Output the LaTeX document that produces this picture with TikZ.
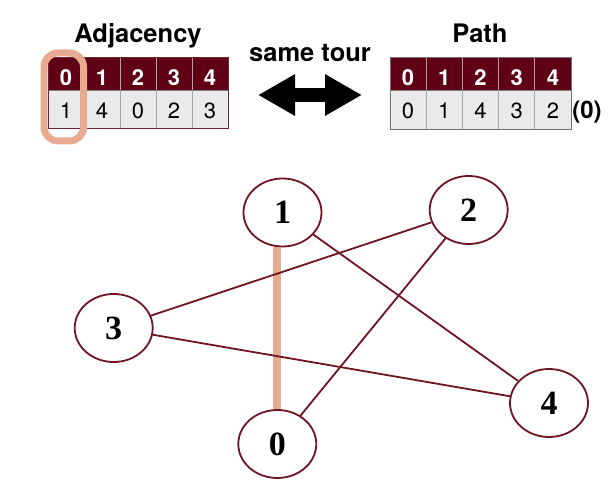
\documentclass[tikz,border=0pt]{standalone}
\usepackage{fontspec}
\setmainfont{TeX Gyre Heros}
\newfontfamily\vertexfont{Liberation Serif}
\usetikzlibrary{shapes.geometric,arrows.meta}
\definecolor{headred}{RGB}{96,0,22}
\definecolor{edgered}{RGB}{110,20,35}
\definecolor{cellgray}{RGB}{234,234,234}
\definecolor{tourorange}{RGB}{232,170,145}
\begin{document}
\begin{tikzpicture}[x=1pt,y=-1pt,
		title/.style={anchor=base,font=\fontsize{25.5}{30}\selectfont\bfseries},
		headnum/.style={anchor=base,text=white,font=\fontsize{22}{26}\selectfont\bfseries},
		cellnum/.style={anchor=base,font=\fontsize{22}{26}\selectfont},
		vertex/.style={ellipse,draw=edgered,line width=1.8pt,fill=white,minimum width=78pt,minimum height=68pt,inner sep=0pt,font=\vertexfont\fontsize{34}{38}\selectfont\bfseries},
		edge/.style={draw=edgered,line width=1.8pt},
		tourline/.style={draw=tourorange,line width=8pt}]
		\useasboundingbox (0,0) rectangle (611,486);
		
		\node[title] (adjtitle) at (138,43) {Adjacency};
		\fill[cellgray] (48,91) rectangle (228,129);
		\fill[headred] (48,58) rectangle (228,91);
		\foreach \x in {84,120,156,192} {
			\draw[gray!70,line width=0.8pt] (\x,58) -- (\x,91);
			\draw[gray!70,line width=0.8pt] (\x,91) -- (\x,129);
		}
		\draw[gray,line width=1pt] (48,91) -- (228,91);
		\draw[headred!70!gray,line width=1pt] (48,58) rectangle (228,129);
		\foreach \i/\a in {0/1,1/4,2/0,3/2,4/3} {
			\node[headnum] (adjh\i) at (66+36*\i,86) {\i};
			\node[cellnum] (adjv\i) at (66+36*\i,118.5) {\a};
		}
		\draw[tourorange,line width=7pt,rounded corners=14pt] (44,53) rectangle (83.5,141);
		
		\node[title] (tourtitle) at (310,62) {same tour};
		\coordinate (tourleft) at (258,95);
		\coordinate (tourright) at (362,95);
		\draw[line width=13.5pt,{Triangle[length=37pt,width=39pt]}-{Triangle[length=37pt,width=39pt]}] (tourleft) -- (tourright);
		
		\node[title] (pathtitle) at (480,43) {Path};
		\fill[cellgray] (390,91) rectangle (571,130);
		\fill[headred] (390,58) rectangle (571,91);
		\foreach \x in {426.2,462.4,498.6,534.8} {
			\draw[gray!70,line width=0.8pt] (\x,58) -- (\x,130);
		}
		\draw[gray,line width=1pt] (390,91) -- (571,91);
		\draw[gray!90!black,line width=1pt] (390,58) rectangle (571,130);
		\foreach \i/\p in {0/0,1/1,2/4,3/3,4/2} {
			\node[headnum] (pathh\i) at (408.1+36.2*\i,86) {\i};
			\node[cellnum] (pathv\i) at (408.1+36.2*\i,118.5) {\p};
		}
		\node[anchor=base,font=\fontsize{24}{28}\selectfont\bfseries] (pathend) at (587,118.5) {(0)};
		
		\node[vertex] (n1) at (282.5,212.5) {1};
		\node[vertex] (n2) at (468.7,210) {2};
		\node[vertex] (n3) at (113.7,328) {3};
		\node[vertex] (n4) at (549,403) {4};
		\node[vertex] (n0) at (277.3,444) {0};
		
		\draw[tourline] (n0 |- n1.south) -- (n0.north);
		\draw[edge] (n1) -- (n4);
		\draw[edge] (n2) -- (n3);
		\draw[edge] (n2) -- (n0);
		\draw[edge] (n3) -- (n4);
	\end{tikzpicture}
\end{document}
